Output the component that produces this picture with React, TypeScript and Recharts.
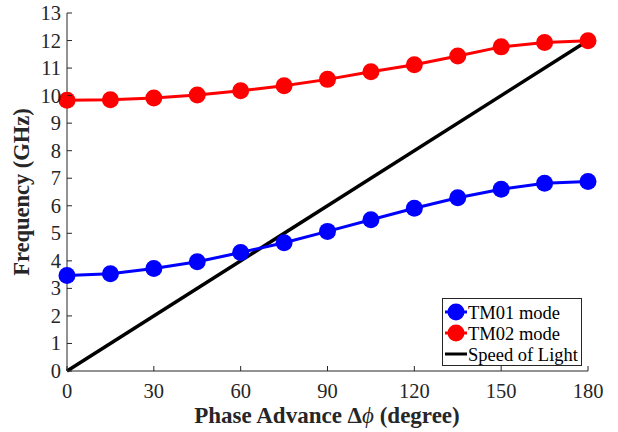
import React from 'react';
import { LineChart, Line, XAxis, YAxis, Legend } from 'recharts';

// phase advance in degrees, frequencies in GHz
const phase = [0, 15, 30, 45, 60, 75, 90, 105, 120, 135, 150, 165, 180];
const tm01 = [3.47, 3.53, 3.72, 3.97, 4.3, 4.66, 5.07, 5.49, 5.91, 6.29, 6.6, 6.82, 6.88];
const tm02 = [9.83, 9.85, 9.91, 10.02, 10.18, 10.36, 10.59, 10.87, 11.12, 11.44, 11.77, 11.93, 11.99];
const lightPhase = [0, 180];
const lightFreq = [0, 12];

const xTicks = [0, 30, 60, 90, 120, 150, 180];
const yTicks = [0, 1, 2, 3, 4, 5, 6, 7, 8, 9, 10, 11, 12, 13];

const legendItems = [
  { name: 'TM01 mode', color: '#0000ff', dot: true },
  { name: 'TM02 mode', color: '#ff0000', dot: true },
  { name: 'Speed of Light', color: '#000000', dot: false },
];

const tm01Data = phase.map((p, i) => ({ phase: p, f: tm01[i] }));
const tm02Data = phase.map((p, i) => ({ phase: p, f: tm02[i] }));
const lightData = lightPhase.map((p, i) => ({ phase: p, f: lightFreq[i] }));

const FONT = '"Liberation Serif", "Times New Roman", serif';
const AXIS = '#262626';

const BottomTick = ({ x, y, payload }: any) => (
  <g>
    <line x1={x} x2={x} y1={y} y2={y - 5} stroke={AXIS} strokeWidth={1} />
    <text x={x} y={y + 27} textAnchor="middle" fontFamily={FONT} fontSize={20.5} fill={AXIS}>
      {payload.value}
    </text>
  </g>
);
const TopTick = ({ x, y }: any) => (
  <line x1={x} x2={x} y1={y} y2={y + 5} stroke={AXIS} strokeWidth={1} />
);
const LeftTick = ({ x, y, payload }: any) => (
  <g>
    <line x1={x} x2={x + 5} y1={y} y2={y} stroke={AXIS} strokeWidth={1} />
    <text x={x - 6} y={y + 7} textAnchor="end" fontFamily={FONT} fontSize={20.5} fill={AXIS}>
      {payload.value}
    </text>
  </g>
);
const RightTick = ({ x, y }: any) => (
  <line x1={x} x2={x - 5} y1={y} y2={y} stroke={AXIS} strokeWidth={1} />
);

const XLabel = () => (
  <text x={327} y={423} textAnchor="middle" fontFamily={FONT} fontSize={23} fontWeight="bold" fill={AXIS}>
    Phase Advance Δ<tspan fontStyle="italic" fontWeight="normal">ϕ</tspan> (degree)
  </text>
);
const YLabel = () => (
  <text
    x={29}
    y={192}
    transform="rotate(-90 29 192)"
    textAnchor="middle"
    fontFamily={FONT}
    fontSize={22.5}
    fontWeight="bold"
    fill={AXIS}
  >
    Frequency (GHz)
  </text>
);

const LegendBox = () => (
  <svg width={140} height={68} style={{ display: 'block' }}>
    <rect x={0.5} y={0.5} width={139} height={67} fill="#fff" stroke={AXIS} strokeWidth={1} />
    {legendItems.map((it, i) => {
      const cy = 14 + i * 21;
      return (
        <g key={it.name}>
          <line x1={3} x2={25} y1={cy} y2={cy} stroke={it.color} strokeWidth={3} />
          {it.dot && <circle cx={14} cy={cy} r={8.5} fill={it.color} />}
          <text x={26} y={cy + 6.5} fontFamily={FONT} fontSize={18.5} fill="#000">
            {it.name}
          </text>
        </g>
      );
    })}
  </svg>
);

export default function App() {
  return (
    <div style={{ position: 'absolute', left: 0, top: 0, background: '#fff' }}>
      <LineChart width={618} height={432} margin={{ top: 13, right: 30, bottom: 0, left: 0 }}>
        <XAxis
          xAxisId="b"
          type="number"
          dataKey="phase"
          domain={[0, 180]}
          ticks={xTicks}
          height={61}
          tickSize={0}
          tickMargin={0}
          tickLine={false}
          axisLine={{ stroke: AXIS }}
          tick={BottomTick}
          interval={0}
          allowDuplicatedCategory={false}
          label={{ content: () => <XLabel /> }}
        />
        <XAxis
          xAxisId="t"
          orientation="top"
          type="number"
          dataKey="phase"
          domain={[0, 180]}
          ticks={xTicks}
          height={0}
          tickSize={0}
          tickMargin={0}
          tickLine={false}
          axisLine={{ stroke: AXIS }}
          tick={TopTick}
          interval={0}
        />
        <YAxis
          yAxisId="l"
          type="number"
          domain={[0, 13]}
          ticks={yTicks}
          width={67}
          tickSize={0}
          tickMargin={0}
          tickLine={false}
          axisLine={{ stroke: AXIS }}
          tick={LeftTick}
          interval={0}
          label={{ content: () => <YLabel /> }}
        />
        <YAxis
          yAxisId="r"
          orientation="right"
          type="number"
          domain={[0, 13]}
          ticks={yTicks}
          width={0}
          tickSize={0}
          tickMargin={0}
          tickLine={false}
          axisLine={{ stroke: AXIS }}
          tick={RightTick}
          interval={0}
        />
        <Legend
          layout="vertical"
          align="center"
          verticalAlign="middle"
          wrapperStyle={{ left: 442, top: 298, width: 'auto' }}
          content={() => <LegendBox />}
        />
        <Line
          xAxisId="b"
          yAxisId="l"
          data={lightData}
          dataKey="f"
          stroke="#000000"
          strokeWidth={3.5}
          dot={false}
          isAnimationActive={false}
        />
        <Line
          xAxisId="b"
          yAxisId="l"
          data={tm01Data}
          dataKey="f"
          stroke="#0000ff"
          strokeWidth={3}
          dot={{ r: 8.5, fill: '#0000ff', stroke: 'none' }}
          isAnimationActive={false}
        />
        <Line
          xAxisId="b"
          yAxisId="l"
          data={tm02Data}
          dataKey="f"
          stroke="#ff0000"
          strokeWidth={3}
          dot={{ r: 8.5, fill: '#ff0000', stroke: 'none' }}
          isAnimationActive={false}
        />
      </LineChart>
    </div>
  );
}
